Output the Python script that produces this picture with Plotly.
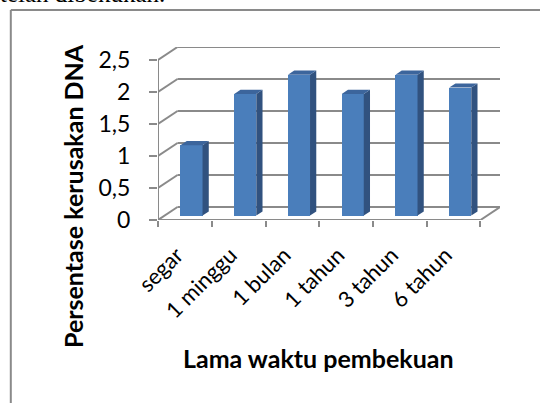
import plotly.graph_objects as go

# ---- data ----
categories = ["segar", "1 minggu", "1 bulan", "1 tahun", "3 tahun", "6 tahun"]
values = [1.1, 1.9, 2.2, 1.9, 2.2, 2.0]
y_ticks = [0, 0.5, 1, 1.5, 2, 2.5]
y_ticktext = ["0", "0,5", "1", "1,5", "2", "2,5"]
x_title = "Lama waktu pembekuan"
y_title = "Persentase kerusakan DNA"
top_text = "telah dibekukan."

# ---- 3D look parameters (in axis units) ----
DX = 0.363   # depth offset along x (category units)
DY = 0.203   # depth offset along y (value units)
D_FRONT, D_BACK = 0.34, 0.66   # bar depth position
BAR_W = 0.41
LABEL_SHIFT = -0.15
YMAX = y_ticks[-1]

FRONT = "#4A7EBB"
SIDE = "#31527F"
TOP = "#3C659C"
GRID = "#8A8A8A"
FONT = "Lato"

W, H = 540, 403
L, R, T, B = 158, 40, 47, 183
pw, ph = W - L - R, H - T - B

n = len(categories)
xs = list(range(n))
fig = go.Figure()

# front faces (bars)
fig.add_trace(go.Bar(
    x=[c + D_FRONT * DX for c in xs], y=values, base=D_FRONT * DY,
    width=BAR_W, marker=dict(color=FRONT, line=dict(width=0)),
    hoverinfo="skip", showlegend=False))

# side and top faces
for c, v in zip(xs, values):
    xr0 = c + D_FRONT * DX + BAR_W / 2
    xl0 = c + D_FRONT * DX - BAR_W / 2
    y0b, y0t = D_FRONT * DY, v + D_FRONT * DY
    ddx, ddy = (D_BACK - D_FRONT) * DX, (D_BACK - D_FRONT) * DY
    fig.add_trace(go.Scatter(
        x=[xr0, xr0 + ddx, xr0 + ddx, xr0, xr0],
        y=[y0b, y0b + ddy, y0t + ddy, y0t, y0b],
        fill="toself", fillcolor=SIDE, mode="lines", line=dict(width=0),
        hoverinfo="skip", showlegend=False))
    fig.add_trace(go.Scatter(
        x=[xl0, xr0, xr0 + ddx, xl0 + ddx, xl0],
        y=[y0t, y0t, y0t + ddy, y0t + ddy, y0t],
        fill="toself", fillcolor=TOP, mode="lines", line=dict(width=0),
        hoverinfo="skip", showlegend=False))

# gridlines on back wall and left wall
shapes = []
xl, xr = -0.5, n - 0.5
for v in y_ticks:
    shapes.append(dict(type="line", xref="x", yref="y", x0=xl, y0=v, x1=xl + DX, y1=v + DY,
                       line=dict(color=GRID, width=2), layer="below"))
    shapes.append(dict(type="line", xref="x", yref="y", x0=xl + DX, y0=v + DY, x1=xr + DX, y1=v + DY,
                       line=dict(color=GRID, width=2), layer="below"))
# floor right edge
shapes.append(dict(type="line", xref="x", yref="y", x0=xr, y0=0, x1=xr + DX, y1=DY,
                   line=dict(color=GRID, width=2), layer="below"))
# front axes
shapes.append(dict(type="line", xref="x", yref="y", x0=xl, y0=0, x1=xr, y1=0,
                   line=dict(color=GRID, width=2), layer="above"))
shapes.append(dict(type="line", xref="x", yref="y", x0=xl, y0=0, x1=xl, y1=YMAX,
                   line=dict(color=GRID, width=2), layer="above"))

# outer frame (left + top)
def px_x(p):
    return (p - L) / pw
def px_y(p):
    return (H - B - p) / ph
shapes.append(dict(type="line", xref="paper", yref="paper", x0=px_x(10.8), y0=px_y(10), x1=px_x(560), y1=px_y(10),
                   line=dict(color="#8A8A8A", width=2)))
shapes.append(dict(type="line", xref="paper", yref="paper", x0=px_x(10.8), y0=px_y(10), x1=px_x(10.8), y1=px_y(420),
                   line=dict(color="#8A8A8A", width=2)))

annotations = [
    dict(text=y_title, xref="paper", yref="paper", x=px_x(73), y=px_y(196), textangle=-90,
         showarrow=False, xanchor="center", yanchor="middle",
         font=dict(family=FONT, size=25, color="#000000", weight="bold")),
    dict(text=x_title, xref="paper", yref="paper", x=px_x(318), y=px_y(358),
         showarrow=False, xanchor="center", yanchor="middle",
         font=dict(family=FONT, size=25, color="#000000", weight="bold")),
    dict(text=top_text, xref="paper", yref="paper", x=px_x(-2), y=px_y(9), xanchor="left",
         yanchor="bottom", showarrow=False,
         font=dict(family="Liberation Serif", size=25, color="#000000")),
]

fig.update_layout(
    width=W, height=H, margin=dict(l=L, r=R, t=T, b=B, pad=0),
    paper_bgcolor="white", plot_bgcolor="white",
    separators=",.",
    shapes=shapes, annotations=annotations, bargap=0,
    font=dict(family=FONT, size=20, color="#000000"),
    xaxis=dict(range=[xl, xr + DX], tickmode="array", tickvals=[c + LABEL_SHIFT for c in xs],
               ticktext=categories,
               tickangle=-45, ticks="", showgrid=False, zeroline=False, showline=False,
               tickfont=dict(family=FONT, size=22, color="#000000"), ticklabelstandoff=17,
               minor=dict(tickmode="array", tickvals=[c - 0.5 for c in range(n + 1)],
                          ticks="outside", ticklen=6, tickwidth=2, tickcolor=GRID, showgrid=False)),
    yaxis=dict(range=[0, YMAX + DY], tickmode="array", tickvals=y_ticks, ticktext=y_ticktext,
               ticks="outside", ticklen=8, tickwidth=2, tickcolor=GRID, showgrid=False,
               zeroline=False, showline=False, ticklabelstandoff=14,
               tickfont=dict(family=FONT, size=23, color="#000000")),
)

fig.write_html("out.html")
